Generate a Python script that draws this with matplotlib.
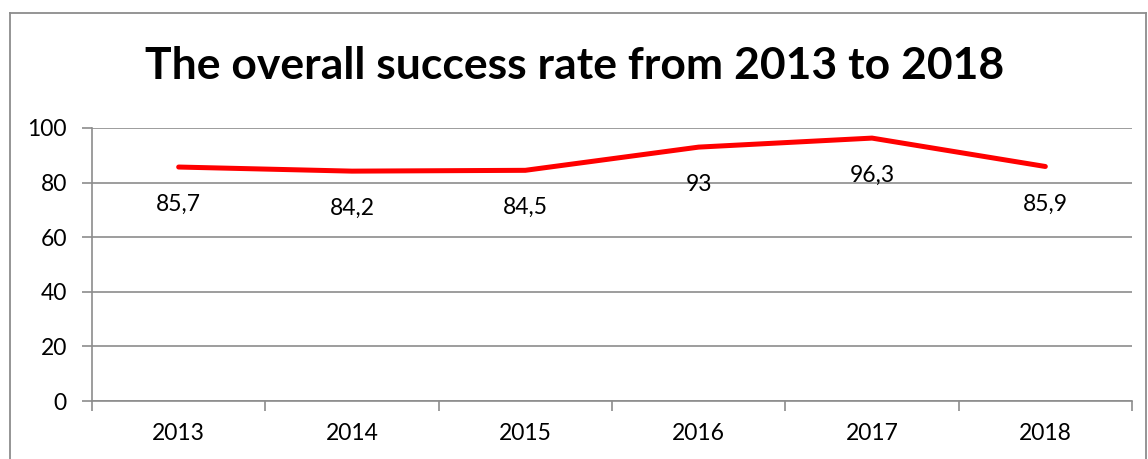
import matplotlib.pyplot as plt
from matplotlib.lines import Line2D

years = ['2013', '2014', '2015', '2016', '2017', '2018']
success_rate = [85.7, 84.2, 84.5, 93, 96.3, 85.9]
rate_labels = ['85,7', '84,2', '84,5', '93', '96,3', '85,9']
y_ticks = [0, 20, 40, 60, 80, 100]

plt.rcParams['font.family'] = ['Lato', 'DejaVu Sans']

W, H = 1148, 459
fig = plt.figure(figsize=(W / 100, H / 100), dpi=100)

# plot area in pixel coordinates of the reference
left, right, top, bottom = 92, 1132, 128, 401
ax = fig.add_axes([left / W, 1 - bottom / H, (right - left) / W, (bottom - top) / H])

x = list(range(len(years)))
ax.plot(x, success_rate, color='#ff0000', lw=3.6, solid_capstyle='round',
        solid_joinstyle='round', zorder=3)
for xi, yi, lab in zip(x, success_rate, rate_labels):
    ax.annotate(lab, (xi, yi), xytext=(0, -27), textcoords='offset points',
                ha='center', va='center', fontsize=16.5, color='black', zorder=4)

ax.set_xlim(-0.5, len(years) - 0.5)
ax.set_ylim(0, 100)
ax.set_yticks(y_ticks)
ax.set_xticks(x)
ax.set_xticklabels(years)
ax.set_xticks([i - 0.5 for i in range(len(years) + 1)], minor=True)
ax.tick_params(axis='x', which='major', length=0, pad=16, labelsize=16.5)
ax.tick_params(axis='x', which='minor', length=7, width=1.2, color='#8c8c8c')
ax.tick_params(axis='y', length=7, width=1.2, color='#8c8c8c', pad=11, labelsize=16.5)
ax.grid(axis='y', color='#8c8c8c', lw=1.2)
ax.set_axisbelow(True)
for side in ['top', 'right']:
    ax.spines[side].set_visible(False)
for side in ['left', 'bottom']:
    ax.spines[side].set_color('#8c8c8c')
    ax.spines[side].set_linewidth(1.2)

fig.text(575 / W, 1 - 66 / H, 'The overall success rate from 2013 to 2018',
         ha='center', va='center', fontsize=32, fontweight='bold')

# outer chart border
bx0, by0, bx1 = 10 / W, 1 - 13 / H, 1146 / W
for xs, ys in [([bx0, bx0], [0, by0]), ([bx0, bx1], [by0, by0]), ([bx1, bx1], [by0, 0])]:
    fig.add_artist(Line2D(xs, ys, color='#8c8c8c', lw=1.3, transform=fig.transFigure))

fig.savefig('out.png', dpi=100)
